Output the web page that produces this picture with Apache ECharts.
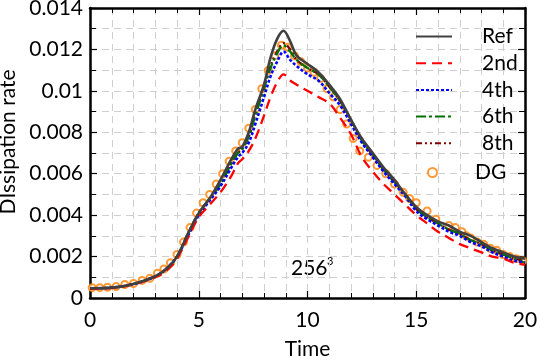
<!DOCTYPE html>
<html>
<head>
<meta charset="utf-8">
<script src="https://cdn.jsdelivr.net/npm/echarts@6/dist/echarts.min.js"></script>
<style>html,body{margin:0;padding:0;background:#fff;}#c{width:540px;height:360px;}</style>
</head>
<body>
<div id="c"></div>
<script>
const T = [0,1,2,3,3.5,4,4.5,5,5.5,6,6.5,6.8,7,7.3,7.6,8,8.3,8.6,8.9,9.2,9.5,10,10.5,11,11.5,12,12.5,13,13.5,14,14.5,15,15.5,16,16.5,17,17.5,18,18.5,19,19.5,20];
const ref = [0.00047,0.0005,0.00068,0.00105,0.0014,0.002,0.0031,0.0041,0.0048,0.0057,0.0067,0.0072,0.0073,0.0080,0.0091,0.0103,0.0116,0.0125,0.0129,0.0124,0.0117,0.0113,0.0109,0.0103,0.0096,0.0086,0.0077,0.0070,0.0063,0.0057,0.0050,0.0044,0.0040,0.0037,0.0035,0.0032,0.0030,0.0027,0.0024,0.0022,0.0020,0.0019];
const o2 = [0.00045,0.00048,0.00065,0.001,0.0013,0.0019,0.0029,0.0039,0.0045,0.0051,0.0059,0.0065,0.0067,0.0071,0.0077,0.0088,0.0097,0.0104,0.0108,0.0105,0.0103,0.0100,0.0097,0.0094,0.0087,0.0079,0.0068,0.0061,0.0055,0.0050,0.0045,0.0040,0.0036,0.0032,0.0029,0.0026,0.0024,0.0022,0.0020,0.0019,0.0017,0.0016];
const o4 = [0.00046,0.0005,0.00067,0.00103,0.0014,0.002,0.003,0.004,0.0047,0.0054,0.0063,0.0068,0.0070,0.0075,0.0084,0.0097,0.0107,0.0114,0.0119,0.0115,0.0112,0.0108,0.0105,0.0099,0.0093,0.0084,0.0075,0.0068,0.0061,0.0055,0.0049,0.0042,0.0038,0.0035,0.0032,0.0030,0.0027,0.0025,0.0022,0.0020,0.0018,0.0017];
const o6 = [0.00047,0.0005,0.00068,0.00105,0.0014,0.002,0.0031,0.0041,0.0048,0.0055,0.0065,0.0070,0.0072,0.0078,0.0088,0.0101,0.0111,0.0118,0.0122,0.0119,0.0115,0.0111,0.0108,0.0102,0.0095,0.0086,0.0076,0.0069,0.0062,0.0056,0.0050,0.0043,0.0039,0.0036,0.0033,0.0031,0.0028,0.0026,0.0023,0.0021,0.0019,0.0017];
const o8 = [0.00047,0.0005,0.00068,0.00105,0.0014,0.002,0.0031,0.0041,0.0048,0.0055,0.0065,0.0070,0.0072,0.0078,0.0089,0.0102,0.0112,0.0119,0.0123,0.0120,0.0115,0.0111,0.0108,0.0102,0.0095,0.0086,0.0076,0.0069,0.0062,0.0056,0.0050,0.0043,0.0039,0.0036,0.0033,0.0031,0.0028,0.0026,0.0023,0.0021,0.0019,0.0018];
const dgT = [0.1,0.45,0.8,1.2,1.6,2.0,2.4,2.75,3.1,3.4,3.7,4.0,4.3,4.6,4.9,5.2,5.5,5.8,6.1,6.4,6.7,7.0,7.3,7.6,7.9,8.2,8.5,8.8,9.1,9.4,9.7,10.0,10.3,10.6,10.9,11.2,11.5,11.8,12.1,12.4,12.8,13.2,13.6,14.0,14.4,14.7,15.0,15.5,15.9,16.5,16.8,17.1,17.3,17.5,17.8,18.1,18.4,18.7,19.0,19.3,19.6,19.9];
const dg = [0.0005,0.0005,0.00052,0.00055,0.00065,0.0007,0.00085,0.00095,0.0012,0.0014,0.0017,0.0021,0.0027,0.0034,0.0041,0.0046,0.0050,0.0055,0.0060,0.0066,0.0071,0.0075,0.0082,0.0091,0.0101,0.0110,0.0117,0.0122,0.0121,0.0117,0.0114,0.0111,0.0109,0.0106,0.0101,0.0097,0.0091,0.0084,0.0077,0.0071,0.0068,0.0064,0.0060,0.0055,0.0051,0.0048,0.0046,0.0042,0.0038,0.0035,0.0034,0.0032,0.0030,0.0029,0.0027,0.0026,0.0024,0.0023,0.0021,0.0020,0.0019,0.0018];
const yTicks = ['0','0.002','0.004','0.006','0.008','0.01','0.012','0.014'];

const pairs = (xs, ys) => xs.map((x, i) => [x, ys[i]]);
const FONT = 'Lato';
const FS = 21;
const grid = {left: 90, right: 15, top: 8, bottom: 62, containLabel: false, outerBoundsMode: 'none'};
const dashGrid = {show: true, lineStyle: {color: '#cfcfcf', type: [7, 5], width: 1}};
const DGC = '#ff8000';

const chart = echarts.init(document.getElementById('c'), null, {renderer: 'canvas'});
function lineSeries(name, data, color, type, width, z) {
  return {name, type: 'line', data, symbol: 'none', showSymbol: false, smooth: 0.35, z,
    lineStyle: {color, type, width}, itemStyle: {color}, animation: false};
}
const axisCommon = (extra) => Object.assign({
  axisLine: {show: true, onZero: false, lineStyle: {color: '#000', width: 2.5}},
  axisTick: {show: true, inside: true, length: 7, lineStyle: {color: '#000', width: 1.2}},
}, extra);
chart.setOption({
  animation: false,
  textStyle: {fontFamily: FONT, color: '#000'},
  grid,
  legend: [{
    data: ['Ref','2nd','4th','6th','8th'], orient: 'vertical', left: 410, top: 21,
    itemWidth: 36, itemHeight: 24, itemGap: 5.7,
    itemStyle: {opacity: 0},
    textStyle: {fontFamily: FONT, fontSize: FS, color: '#000', padding: [0, 0, 0, 25]}
  }, {
    data: ['DG'], orient: 'vertical', left: 422, top: 157,
    itemWidth: 9, itemHeight: 9, icon: 'emptyCircle',
    itemStyle: {borderWidth: 2},
    textStyle: {fontFamily: FONT, fontSize: FS, color: '#000', padding: [0, 0, 0, 33]}
  }],
  xAxis: [axisCommon({
    type: 'value', min: 0, max: 20, interval: 5,
    name: 'Time', nameLocation: 'middle', nameGap: 41,
    nameTextStyle: {fontFamily: FONT, fontSize: FS, color: '#000'},
    minorTick: {show: true, splitNumber: 5, length: 5, lineStyle: {color: '#000', width: 1}},
    axisLabel: {fontFamily: FONT, fontSize: FS, color: '#000', margin: 12},
    splitLine: dashGrid, minorSplitLine: dashGrid
  }), axisCommon({
    type: 'value', min: 0, max: 20, interval: 5, position: 'top',
    minorTick: {show: true, splitNumber: 5, length: 5, lineStyle: {color: '#000', width: 1}},
    axisLabel: {show: false}, splitLine: {show: false}
  })],
  yAxis: [axisCommon({
    type: 'value', min: 0, max: 0.014, interval: 0.002,
    name: 'DIssipation rate', nameLocation: 'middle', nameGap: 62, nameRotate: 90,
    nameTextStyle: {fontFamily: FONT, fontSize: FS, color: '#000', padding: [0, 0, 0, 22]},
    minorTick: {show: true, splitNumber: 2, length: 6, lineStyle: {color: '#000', width: 1}},
    axisLabel: {fontFamily: FONT, fontSize: FS, color: '#000', margin: 7,
      formatter: (v) => yTicks[Math.round(v / 0.002)]},
    splitLine: dashGrid, minorSplitLine: dashGrid
  }), axisCommon({
    type: 'value', min: 0, max: 0.014, interval: 0.002, position: 'right',
    minorTick: {show: true, splitNumber: 2, length: 6, lineStyle: {color: '#000', width: 1}},
    axisLabel: {show: false}, splitLine: {show: false}
  })],
  series: [
    {name: 'DG', type: 'scatter', data: pairs(dgT, dg), symbol: 'emptyCircle', symbolSize: 7, z: 2,
      itemStyle: {color: DGC, borderColor: DGC, borderWidth: 1.8}},
    lineSeries('8th', pairs(T, o8), '#800000', [6, 3, 2, 3, 2, 3], 2.3, 3),
    lineSeries('6th', pairs(T, o6), '#007000', [10, 3, 3, 3], 2.3, 4),
    lineSeries('4th', pairs(T, o4), '#0000ff', [3, 2], 2.6, 5),
    lineSeries('2nd', pairs(T, o2), '#ff0000', [10, 6], 2.3, 6),
    lineSeries('Ref', pairs(T, ref), '#404040', 'solid', 2.6, 7)
  ],
  graphic: [
    {type: 'text', left: 291, top: 258, style: {text: '256', font: '21px Lato', fill: '#000'}},
    {type: 'text', left: 327, top: 256, style: {text: '3', font: '11px Lato', fill: '#000'}}
  ]
});
</script>
</body>
</html>
